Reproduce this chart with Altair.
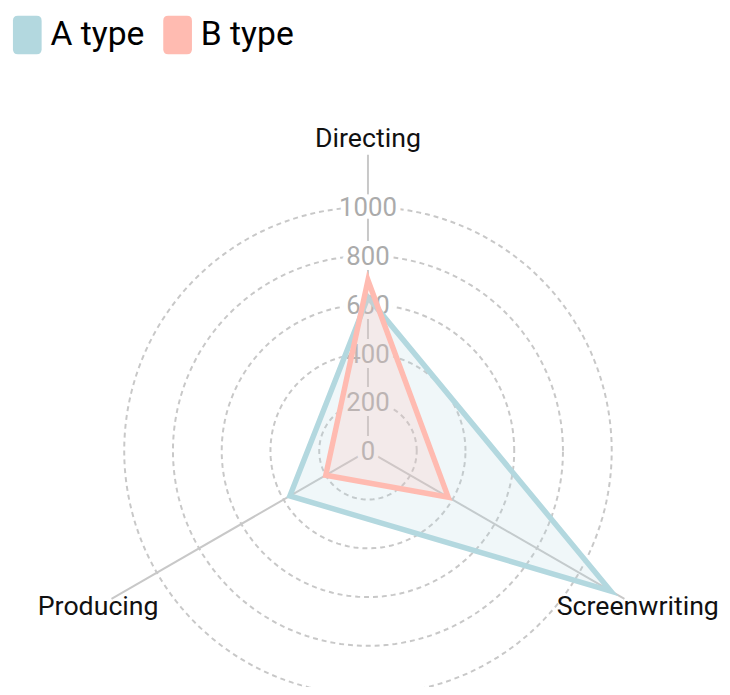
import altair as alt
import pandas as pd
import numpy as np

# ---------------- data ----------------
categories = ["Directing", "Screenwriting", "Producing"]
series_names = ["A type", "B type"]
a_values = [630, 1150, 370]
b_values = [700, 380, 200]
grid_levels = [200, 400, 600, 800, 1000]
tick_labels = [0, 200, 400, 600, 800, 1000]
axis_max = 1215
label_radius = 1278
colors = ["#b3d8df", "#ffbbb1"]

# ---------------- layout ----------------
K = 0.2465            # px per unit
W, H = 722, 679
CX, CY = 364, 444     # centre of the radar in plot coordinates
xs = alt.Scale(domain=[-CX / K, (W - CX) / K], nice=False, zero=False)
ys = alt.Scale(domain=[-(H - CY) / K, CY / K], nice=False, zero=False)
ANG = "PI/2 - 2*PI*datum.idx/3"

poly_df = pd.DataFrame(
    [{"series": s, "category": c, "idx": i, "value": v}
     for s, vals in zip(series_names, [a_values, b_values])
     for i, (c, v) in enumerate(zip(categories, vals))]
)
cat_df = pd.DataFrame({"category": categories, "idx": list(range(len(categories)))})
grid_df = pd.DataFrame(
    [{"level": lv, "deg": d} for lv in grid_levels for d in np.arange(0, 360, 2)]
)
tick_df = pd.DataFrame({"tick": tick_labels})
series_df = pd.DataFrame({"series": series_names})

# grid circles
grid = alt.Chart(grid_df).transform_calculate(
    x="datum.level*cos(datum.deg*PI/180)", y="datum.level*sin(datum.deg*PI/180)"
).mark_line(interpolate="linear-closed", strokeDash=[5, 4], color="#c8c8c8", strokeWidth=2).encode(
    x=alt.X("x:Q", scale=xs, axis=None),
    y=alt.Y("y:Q", scale=ys, axis=None),
    detail="level:N",
    order="deg:Q",
)

# axis spokes
spokes = alt.Chart(cat_df).transform_calculate(
    ang=ANG, x0="0", y0="0",
    xe=f"{axis_max}*cos(datum.ang)", ye=f"{axis_max}*sin(datum.ang)"
).mark_rule(color="#c8c8c8", strokeWidth=2).encode(
    x=alt.X("x0:Q", scale=xs, axis=None),
    y=alt.Y("y0:Q", scale=ys, axis=None),
    x2="xe:Q",
    y2="ye:Q",
)

# radius labels (halo + text)
tick_base = alt.Chart(tick_df).transform_calculate(x0="0").encode(
    x=alt.X("x0:Q", scale=xs, axis=None),
    y=alt.Y("tick:Q", scale=ys, axis=None),
    text="tick:Q",
)
tick_halo = tick_base.mark_text(font="Roboto", fontSize=26, dy=1.5, color="white",
                                stroke="white", strokeWidth=10, strokeJoin="round")
tick_text = tick_base.mark_text(font="Roboto", fontSize=26, dy=1.5, color="#ababab")

# polygons, one layer per series (A below B)
poly_layers = []
for name, col in zip(series_names, colors):
    poly_layers.append(
        alt.Chart(poly_df).transform_filter(alt.datum.series == name).transform_calculate(
            ang=ANG, x="datum.value*cos(datum.ang)", y="datum.value*sin(datum.ang)"
        ).mark_line(interpolate="linear-closed", strokeWidth=5.5, stroke=col, fill=col,
                    fillOpacity=0.2, strokeJoin="miter").encode(
            x=alt.X("x:Q", scale=xs, axis=None),
            y=alt.Y("y:Q", scale=ys, axis=None),
            order="idx:Q",
        )
    )

# legend carrier (invisible points)
cscale = alt.Scale(domain=series_names, range=colors)
path = ("M-0.488,-1 L0.488,-1 Q0.744,-1 0.744,-0.744 L0.744,0.744 "
        "Q0.744,1 0.488,1 L-0.488,1 Q-0.744,1 -0.744,0.744 "
        "L-0.744,-0.744 Q-0.744,-1 -0.488,-1 Z")
legend_layer = alt.Chart(series_df).transform_calculate(x0="0", y0="0").mark_point(
    filled=True, size=0, shape=path
).encode(
    x=alt.X("x0:Q", scale=xs, axis=None),
    y=alt.Y("y0:Q", scale=ys, axis=None),
    color=alt.Color(
        "series:N", scale=cscale, title=None,
        legend=alt.Legend(
            orient="none", legendX=0, legendY=4, direction="horizontal",
            symbolType=path, symbolSize=1521, symbolStrokeWidth=0, symbolOpacity=1,
            labelFont="Roboto", labelFontSize=34, labelColor="#000000", labelOffset=4,
            columnPadding=14, padding=0, labelLimit=300,
        ),
    ),
)

# category labels
cat_labels = alt.Chart(cat_df).transform_calculate(
    ang=ANG, x=f"{label_radius}*cos(datum.ang)", y=f"{label_radius}*sin(datum.ang)"
).mark_text(font="Roboto", fontSize=27, color="#111111", align="center", baseline="middle").encode(
    x=alt.X("x:Q", scale=xs, axis=None),
    y=alt.Y("y:Q", scale=ys, axis=None),
    text="category:N",
)

chart = alt.layer(grid, spokes, tick_halo, tick_text, *poly_layers, legend_layer, cat_labels).properties(
    width=W, height=H, autosize=alt.AutoSizeParams(type="none"), padding=0,
    background="white",
).configure_view(stroke=None)

chart.save("out.html", embed_options={"renderer": "svg", "actions": False})
